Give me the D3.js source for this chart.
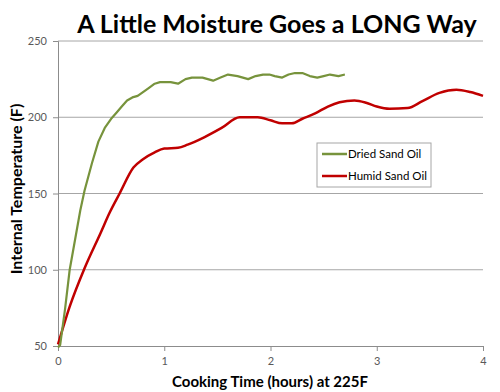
<!DOCTYPE html>
<html><head><meta charset="utf-8">
<script src="https://cdn.jsdelivr.net/npm/d3@7"></script>
<style>body{margin:0;background:#fff}svg{display:block}</style>
</head><body>
<script>
const title = "A Little Moisture Goes a LONG Way";
const xLabel = "Cooking Time (hours) at 225F";
const yLabel = "Internal Temperature (F)";
const xTicks = [0, 1, 2, 3, 4];
const yTicks = [50, 100, 150, 200, 250];
const seriesNames = ["Dried Sand Oil", "Humid Sand Oil"];
const seriesColors = ["#77933C", "#C00000"];

const driedTime = [0, 0.02, 0.066, 0.11, 0.16, 0.21, 0.25, 0.32, 0.38, 0.44, 0.50, 0.55, 0.60, 0.65, 0.70, 0.75, 0.79, 0.85, 0.91, 0.96, 1.0, 1.06, 1.13, 1.20, 1.26, 1.36, 1.46, 1.53, 1.6, 1.69, 1.79, 1.86, 1.93, 1.99, 2.04, 2.11, 2.17, 2.23, 2.30, 2.37, 2.44, 2.50, 2.56, 2.64, 2.70];
const driedTemp = [49, 50.6, 74, 100, 119.5, 139, 152, 170, 184, 193, 199, 203, 207, 211, 213, 214, 216, 219, 222, 223, 223, 223, 222, 225, 226, 226, 224, 226, 228, 227, 225, 227, 228, 228, 227, 226, 228, 229, 229, 227, 226, 227, 228, 227, 228];

const humidTime = [0, 0.11, 0.25, 0.40, 0.49, 0.58, 0.71, 0.80, 0.91, 1.0, 1.13, 1.22, 1.38, 1.54, 1.71, 1.88, 2.0, 2.11, 2.2, 2.30, 2.42, 2.54, 2.65, 2.79, 2.9, 3.0, 3.12, 3.29, 3.43, 3.59, 3.75, 3.88, 4.0];
const humidTemp = [51, 75.8, 101, 124, 138, 150, 167, 172.5, 177, 179.5, 180, 182, 187, 193, 200, 200, 198, 196, 196, 199, 202.5, 207, 209.8, 211, 209.5, 207, 205.5, 206, 210.6, 216, 218, 216.5, 214];

const W = 500, H = 392;
const m = {left: 58, right: 17, top: 41, bottom: 46};
const svg = d3.select("body").append("svg").attr("width", W).attr("height", H)
  .style("font-family", "Lato, 'Open Sans', sans-serif");

const x = d3.scaleLinear().domain([0, 4]).range([m.left, W - m.right]);
const y = d3.scaleLinear().domain([50, 250]).range([H - m.bottom, m.top]);

// gridlines
svg.append("g").selectAll("line").data(yTicks.slice(1)).join("line")
  .attr("x1", m.left).attr("x2", W - m.right)
  .attr("y1", d => y(d)).attr("y2", d => y(d))
  .attr("stroke", "#a6a6a6").attr("stroke-width", 1);

// axes
const xAxis = svg.append("g").attr("transform", `translate(0,${y(50)})`)
  .call(d3.axisBottom(x).tickValues(xTicks).tickFormat(d3.format("d")).tickSize(5).tickPadding(6));
const yAxis = svg.append("g").attr("transform", `translate(${m.left},0)`)
  .call(d3.axisLeft(y).tickValues(yTicks).tickSize(5).tickPadding(6));
[xAxis, yAxis].forEach(g => {
  g.selectAll("path,line").attr("stroke", "#8c8c8c").attr("stroke-width", 1);
  g.selectAll("text").attr("fill", "#595959").style("font-size", "11px").style("font-family", "Lato, sans-serif");
});

const line = d3.line().x(d => x(d[0])).y(d => y(d[1]));
const dried = driedTime.map((t, i) => [t, driedTemp[i]]);
const humid = humidTime.map((t, i) => [t, humidTemp[i]]);

svg.append("path").datum(humid).attr("fill", "none").attr("stroke", seriesColors[1])
  .attr("stroke-width", 2.5).attr("stroke-linejoin", "round")
  .attr("d", line.curve(d3.curveMonotoneX));
svg.append("path").datum(dried).attr("fill", "none").attr("stroke", seriesColors[0])
  .attr("stroke-width", 2.2).attr("stroke-linejoin", "round")
  .attr("d", line.curve(d3.curveLinear));

// legend
const lg = svg.append("g").attr("transform", "translate(317,143)");
lg.append("rect").attr("width", 114).attr("height", 44).attr("fill", "#fff")
  .attr("stroke", "#a6a6a6").attr("stroke-width", 1);
seriesNames.forEach((n, i) => {
  const yy = 11 + i * 22;
  lg.append("line").attr("x1", 5).attr("x2", 30).attr("y1", yy).attr("y2", yy)
    .attr("stroke", seriesColors[i]).attr("stroke-width", 2.5);
  lg.append("text").attr("x", 31).attr("y", yy + 4).text(n)
    .attr("fill", "#000").style("font-size", "11.5px");
});

// titles
svg.append("text").attr("x", 277).attr("y", 33).attr("text-anchor", "middle")
  .style("font-size", "25px").style("font-weight", "bold").text(title);
svg.append("text").attr("x", 270).attr("y", 387).attr("text-anchor", "middle")
  .style("font-size", "15px").style("font-weight", "bold").text(xLabel);
svg.append("text").attr("transform", "translate(22,189) rotate(-90)").attr("text-anchor", "middle")
  .style("font-size", "16px").style("font-weight", "bold").text(yLabel);
</script>
</body></html>
